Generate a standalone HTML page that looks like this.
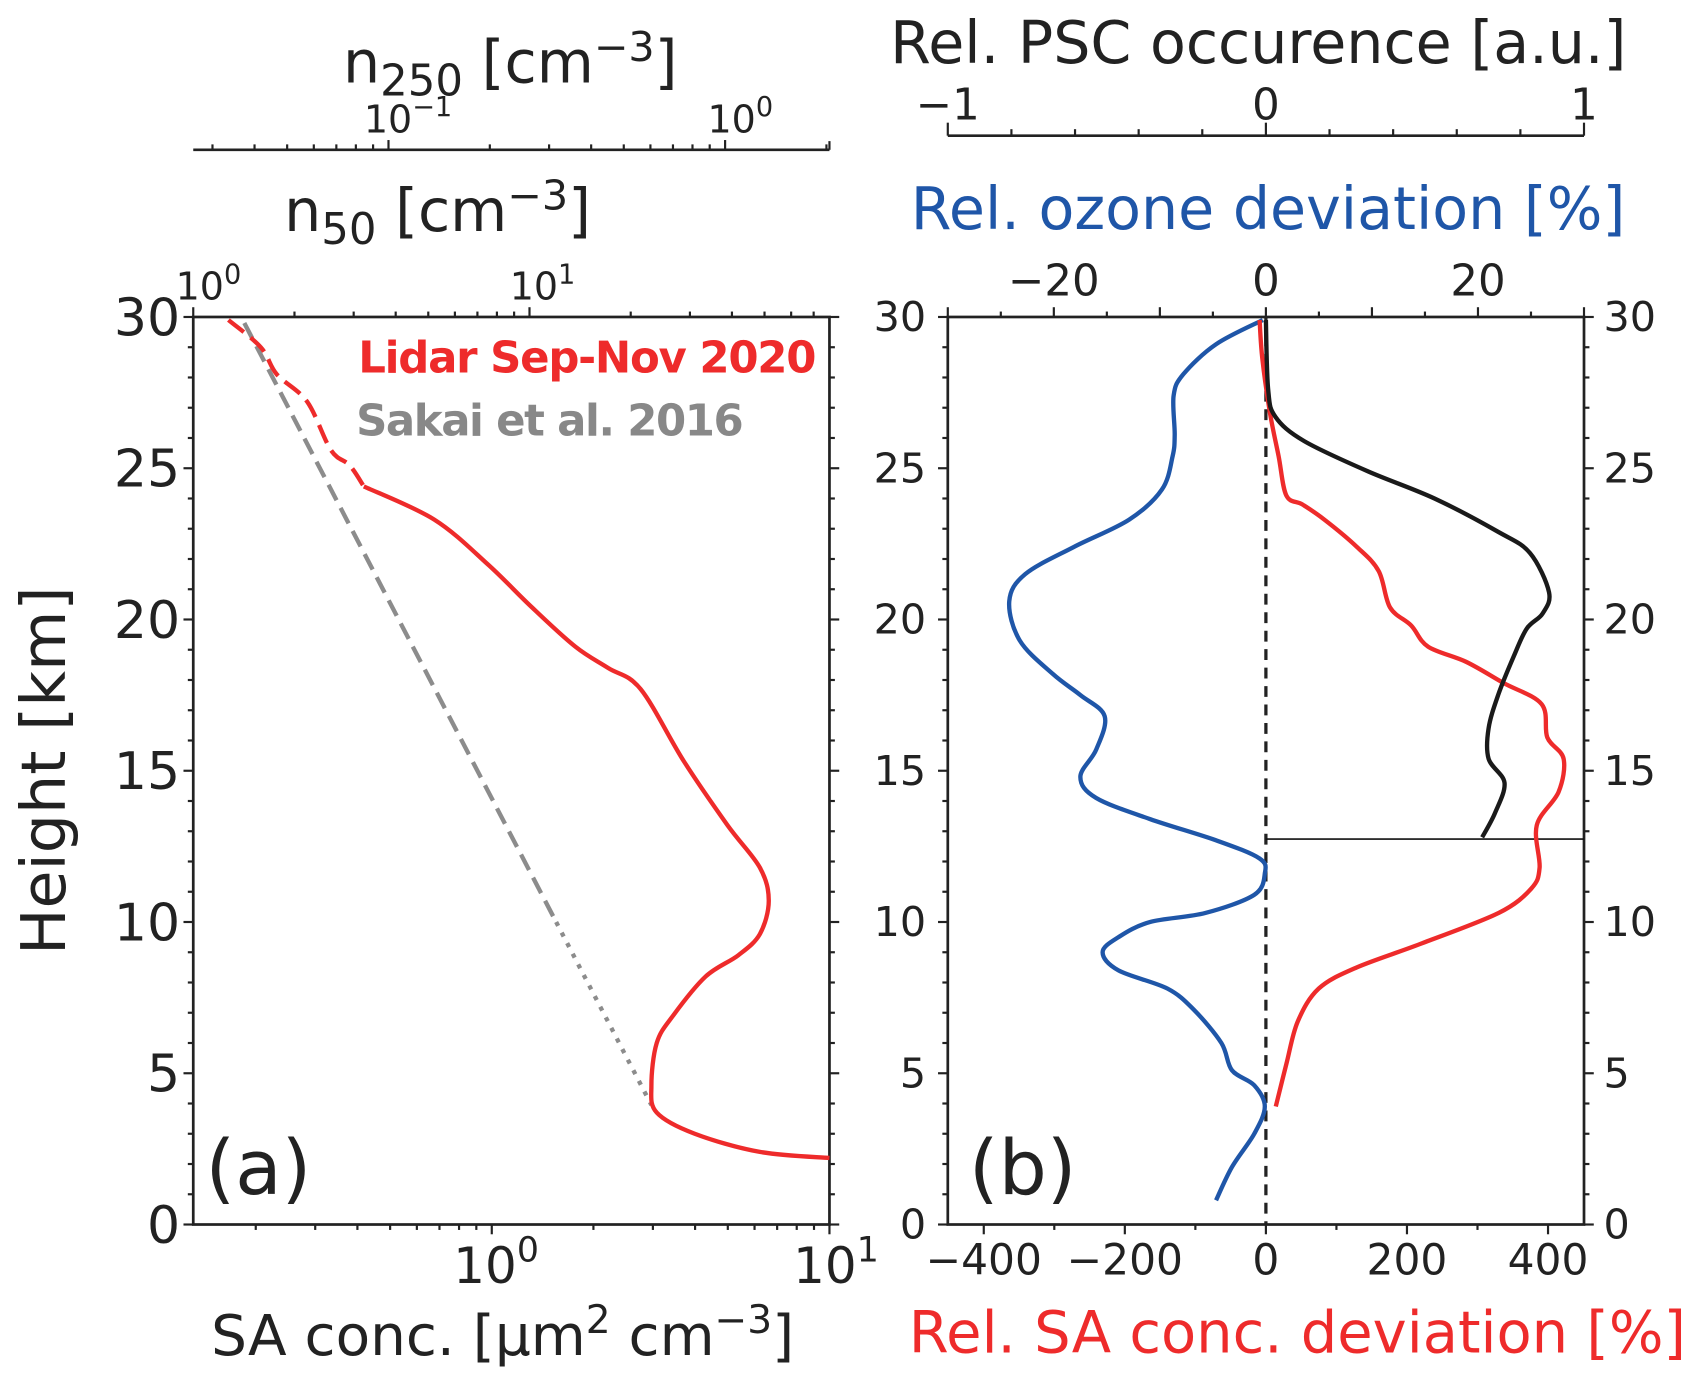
<!DOCTYPE html>
<html><head><meta charset="utf-8"><style>
html,body{margin:0;padding:0;background:#fff}
svg{display:block}
text{font-family:"DejaVu Sans","Liberation Sans",sans-serif;fill:#222}
</style></head><body>
<svg id="fig" width="1698" height="1383" viewBox="0 0 1564 1274" preserveAspectRatio="none" xmlns="http://www.w3.org/2000/svg">
<g id="g"></g>
</svg>
<script>
// ---- Panel (a) data ----
const lidarH = [29.9,29.0,28.1,27.2,25.6,25.1,24.4,23.3,21.8,20.4,19.1,18.4,17.7,15.3,13.2,11.8,10.7,9.6,8.9,8.2,6.9,6.0,4.6,3.7,3.0,2.4,2.2];
const lidarSA = [0.166,0.207,0.231,0.284,0.334,0.379,0.418,0.676,0.978,1.315,1.769,2.21,2.76,3.71,4.99,6.22,6.61,6.22,5.37,4.30,3.44,3.08,2.97,3.08,3.99,6.22,10];
const sakaiH = [29.8,3.95];
const sakaiSA = [0.185,2.97];
// ---- Panel (b) data ----
const ozoneH = [29.9,29.1,28.1,27.4,26.1,25.4,24.3,23.3,22.4,21.5,20.6,19.3,18.2,17.5,16.8,15.7,14.8,14.1,13.4,12.7,12.1,11.6,10.9,10.3,10.0,9.5,9.0,8.4,7.8,7.1,6.0,5.1,4.6,3.9,3.0,1.9,0.8];
const ozoneDev = [-0.3,-4.7,-7.8,-8.7,-8.6,-8.8,-9.8,-12.9,-18.1,-22.7,-24.2,-23.2,-20.1,-17.5,-15.2,-16.0,-17.5,-16.0,-10.9,-4.7,-0.6,-0.1,-1.1,-5.7,-10.9,-13.9,-15.4,-13.9,-9.3,-6.8,-4.2,-3.2,-1.1,-0.1,-1.1,-3.2,-4.7];
const saDevH = [29.9,28.6,26.8,25.4,24.1,23.8,23.3,22.4,21.6,20.4,19.8,19.1,18.6,17.9,17.2,16.1,15.4,14.3,13.2,11.8,11.1,10.3,9.3,8.5,7.8,6.7,5.3,3.9];
const saDev = [-9,-5,6,18,29,52,83,129,160,176,206,230,284,337,391,399,422,415,384,388,376,330,222,129,75,45,29,14];
const pscH = [29.9,27.6,26.7,25.9,24.9,24.0,22.9,22.2,20.9,20.2,19.7,18.8,17.5,16.4,15.4,14.6,13.6,12.8];
const pscOcc = [0,0.007,0.03,0.12,0.32,0.53,0.73,0.83,0.89,0.87,0.82,0.78,0.73,0.70,0.70,0.75,0.72,0.68];
const pscBase = 12.74;

const NS="http://www.w3.org/2000/svg";
const G=document.getElementById('g');
function mk(tag,attrs,parent){const e=document.createElementNS(NS,tag);for(const k in attrs)e.setAttribute(k,attrs[k]);(parent||G).appendChild(e);return e;}
function txt(s,x,y,size,anchor,fill,parent){const t=mk('text',{x:x,y:y,'font-size':size,'text-anchor':anchor||'middle'},parent);if(fill)t.style.fill=fill;t.innerHTML=s;return t;}

const TOP=292,BOT=1128;
const yH=h=>BOT-(h/30)*(BOT-TOP);
const aL=178,aR=764,bL=873,bR=1459;
const saMin=Math.log10(0.1306),saMax=1;
const xSA=v=>aL+(Math.log10(v)-saMin)/(saMax-saMin)*(aR-aL);
const n50Min=0,n50Max=Math.log10(78);
const xN50=v=>aL+(Math.log10(v)-n50Min)/(n50Max-n50Min)*(aR-aL);
const n250Min=-1.58,n250Max=0.31;
const xN250=v=>aL+(Math.log10(v)-n250Min)/(n250Max-n250Min)*(aR-aL);
const xDev=v=>bL+(v+451)/902*(bR-bL);
const xOz=v=>bL+(v+30)/60*(bR-bL);
const xPsc=v=>bL+(v+1)/2*(bR-bL);
const ln=(x1,y1,x2,y2,w,c,p)=>mk('line',{x1,y1,x2,y2,stroke:c||'#222','stroke-width':w||2},p);

function smooth(P){ // Catmull-Rom to cubic bezier
  let d='M'+P[0][0].toFixed(1)+','+P[0][1].toFixed(1);
  for(let i=0;i<P.length-1;i++){
    const p0=P[i-1]||P[i],p1=P[i],p2=P[i+1],p3=P[i+2]||P[i+1];
    const c1=[p1[0]+(p2[0]-p0[0])/6,p1[1]+(p2[1]-p0[1])/6];
    const c2=[p2[0]-(p3[0]-p1[0])/6,p2[1]-(p3[1]-p1[1])/6];
    d+=' C'+c1[0].toFixed(1)+','+c1[1].toFixed(1)+' '+c2[0].toFixed(1)+','+c2[1].toFixed(1)+' '+p2[0].toFixed(1)+','+p2[1].toFixed(1);
  }
  return d;
}
function P(xs,ys,fx){return xs.map((v,i)=>[fx(v),yH(ys[i])]);}

// ---- Panel a axes ----
const pa=mk('g',{});


mk('rect',{x:aL,y:TOP,width:aR-aL,height:BOT-TOP,fill:'none',stroke:'#222','stroke-width':2.5},pa);
for(let h=0;h<=30;h++){const y=yH(h);const maj=h%5==0;
 ln(aL,y,aL-(maj?9:5),y,2,'#222',pa);ln(aR,y,aR+(maj?9:5),y,2,'#222',pa);
 if(maj){const t=txt(String(h),aL-12,y+17,48,'end',null,pa);}}
for(let d=-1;d<=1;d++)for(let m=1;m<10;m++){const v=m*Math.pow(10,d);const lv=Math.log10(v);if(lv<saMin-1e-6||lv>saMax+1e-6)continue;const x=xSA(v);ln(x,BOT,x,BOT+(m==1?9:5),2,'#222',pa);}
txt('10<tspan dy="-20" font-size="32">0</tspan>',xSA(1)+4,1182,46,'middle',null,pa);
txt('10<tspan dy="-20" font-size="32">1</tspan>',xSA(10)+6,1182,46,'middle',null,pa);
const xat=txt('SA conc. [μm<tspan dy="-20" font-size="36">2</tspan><tspan dy="20"> cm</tspan><tspan dy="-20" font-size="36">−3</tspan><tspan dy="20">]</tspan>',463,1248,52,'middle',null,pa);

const yat=txt('Height [km]',0,0,57,'middle',null,pa);
yat.setAttribute('transform','translate(60,710) rotate(-90)');

for(let d=0;d<=1;d++)for(let m=1;m<10;m++){const v=m*Math.pow(10,d);if(Math.log10(v)>n50Max)continue;const x=xN50(v);ln(x,TOP,x,TOP-(m==1?9:5),2,'#222',pa);}
txt('10<tspan dy="-15" font-size="25">0</tspan>',xN50(1)+14,276,35,'middle',null,pa);
txt('10<tspan dy="-15" font-size="25">1</tspan>',xN50(10)+12,276,35,'middle',null,pa);
txt('n<tspan dy="12" font-size="40">50</tspan><tspan dy="-12"> [cm</tspan><tspan dy="-20" font-size="38">−3</tspan><tspan dy="20">]</tspan>',403,213,54,'middle',null,pa);
ln(aL,138,aR,138,2.5,'#222',pa);
for(let d=-2;d<=0;d++)for(let m=1;m<10;m++){const v=m*Math.pow(10,d);const lv=Math.log10(v);if(lv<n250Min||lv>n250Max)continue;const x=xN250(v);ln(x,138,x,138-(m==1?9:5),2,'#222',pa);}
ln(aR,138,aR,130,2,'#222',pa);
txt('10<tspan dy="-15" font-size="25">−1</tspan>',xN250(0.1)+18,122,35,'middle',null,pa);
txt('10<tspan dy="-15" font-size="25">0</tspan>',xN250(1)+14,122,35,'middle',null,pa);
txt('n<tspan dy="12" font-size="40">250</tspan><tspan dy="-12"> [cm</tspan><tspan dy="-20" font-size="38">−3</tspan><tspan dy="20">]</tspan>',470,76,54,'middle',null,pa);
// series a
const sk1=mk('polyline',{fill:'none',stroke:'#8c8c8c','stroke-width':4,'stroke-dasharray':'16,8'},pa);

const fr=(10-sakaiH[1])/(sakaiH[0]-sakaiH[1]);
const lsk=Math.log10(sakaiSA[1])+(Math.log10(sakaiSA[0])-Math.log10(sakaiSA[1]))*fr;
sk1.setAttribute('points',xSA(sakaiSA[0])+','+yH(sakaiH[0])+' '+xSA(Math.pow(10,lsk))+','+yH(10));
const sk2=mk('polyline',{points:xSA(Math.pow(10,lsk))+','+yH(10)+' '+xSA(sakaiSA[1])+','+yH(sakaiH[1]),fill:'none',stroke:'#8c8c8c','stroke-width':4,'stroke-dasharray':'4,7'},pa);

const li=lidarH.findIndex(h=>h<=24.4);
const l1=mk('path',{d:smooth(P(lidarSA.slice(0,li+1),lidarH.slice(0,li+1),xSA)),fill:'none',stroke:'#ee2b2b','stroke-width':4,'stroke-dasharray':'18,8'},pa);

const l2=mk('path',{d:smooth(P(lidarSA.slice(li),lidarH.slice(li),xSA)),fill:'none',stroke:'#ee2b2b','stroke-width':4,'stroke-linejoin':'round'},pa);

const lg1=txt('Lidar Sep-Nov 2020',752,343,40,'end','#ee2b2b',pa);lg1.setAttribute('font-weight','bold');lg1.setAttribute('textLength','422');lg1.setAttribute('font-family','Liberation Sans');

const lg2=txt('Sakai et al. 2016',685,401,40,'end','#888',pa);lg2.setAttribute('font-weight','bold');lg2.setAttribute('textLength','357');lg2.setAttribute('font-family','Liberation Sans');

const la=txt('(a)',238,1100,70,'middle',null,pa);

// ---- Panel b ----
const pb=mk('g',{});


mk('rect',{x:bL,y:TOP,width:bR-bL,height:BOT-TOP,fill:'none',stroke:'#222','stroke-width':2.5},pb);
for(let h=0;h<=30;h++){const y=yH(h);const maj=h%5==0;
 ln(bL,y,bL-(maj?9:5),y,2,'#222',pb);ln(bR,y,bR+(maj?9:5),y,2,'#222',pb);
 if(maj){txt(String(h),bL-20,y+13,38,'end',null,pb);txt(String(h),bR+18,y+13,38,'start',null,pb);}}
for(let v=-400;v<=400;v+=100){const x=xDev(v);ln(x,BOT,x,BOT+(v%200==0?9:5),2,'#222',pb);
 if(v%200==0)txt(String(v).replace('-','−'),x,1174,39,'middle',null,pb);}
const xbt=txt('Rel. SA conc. deviation [%]',1195,1246,53,'middle','#ee2b2b',pb);

for(let v=-30;v<=30;v+=5){const x=xOz(v);ln(x,TOP,x,TOP-(v%10==0?9:5),2,'#222',pb);
 if(v%20==0&&Math.abs(v)<30)txt(String(v).replace('-','−'),x,272,40,'middle',null,pb);}
const ot=txt('Rel. ozone deviation [%]',1168,211,54,'middle','#1f56a8',pb);

ln(bL,125,bR,125,2.5,'#222',pb);
for(let v=-1;v<=1.001;v+=0.2){const x=xPsc(v);const maj=Math.abs(Math.round(v)-v)<1e-6;ln(x,125,x,125-(maj?12:6),2,'#222',pb);}
[-1,0,1].forEach(v=>txt(String(v).replace('-','−'),xPsc(v),110,40,'middle',null,pb));
const pt=txt('Rel. PSC occurence [a.u.]',1159,58,54,'middle',null,pb);

const zl=mk('line',{x1:xDev(0),y1:TOP,x2:xDev(0),y2:BOT,stroke:'#222','stroke-width':3,'stroke-dasharray':'10,7'},pb);

const bl=mk('line',{x1:xPsc(0),y1:yH(pscBase),x2:bR,y2:yH(pscBase),stroke:'#111','stroke-width':1.5},pb);

const oz=mk('path',{d:smooth(P(ozoneDev,ozoneH,xOz)),fill:'none',stroke:'#1f56a8','stroke-width':4,'stroke-linejoin':'round'},pb);

const sd=mk('path',{d:smooth(P(saDev,saDevH,xDev)),fill:'none',stroke:'#ee2b2b','stroke-width':4,'stroke-linejoin':'round'},pb);

const ps=mk('path',{d:smooth(P(pscOcc,pscH,xPsc)),fill:'none',stroke:'#1a1a1a','stroke-width':4,'stroke-linejoin':'round'},pb);

const lb=txt('(b)',942,1100,70,'middle',null,pb);
</script>
</body></html>
